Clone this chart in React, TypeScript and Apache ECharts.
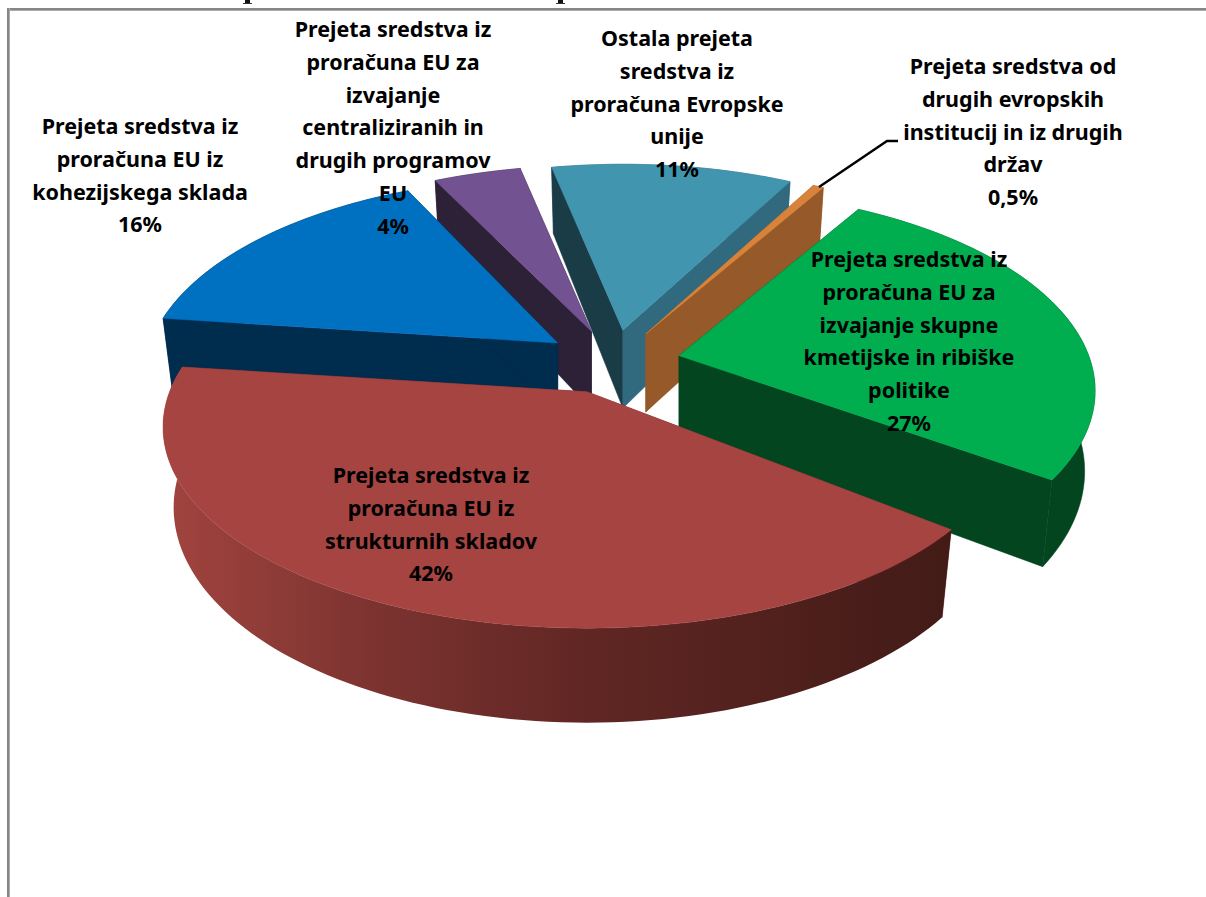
import React, { useEffect, useRef } from "react";
import * as echarts from "echarts";

const categories = [
  "Prejeta sredstva iz\nproračuna EU iz\nstrukturnih skladov",
  "Prejeta sredstva iz\nproračuna EU iz\nkohezijskega sklada",
  "Prejeta sredstva iz\nproračuna EU za\nizvajanje\ncentraliziranih in\ndrugih programov\nEU",
  "Ostala prejeta\nsredstva iz\nproračuna Evropske\nunije",
  "Prejeta sredstva od\ndrugih evropskih\ninstitucij in iz drugih\ndržav",
  "Prejeta sredstva iz\nproračuna EU za\nizvajanje skupne\nkmetijske in ribiške\npolitike",
];
const values = [42, 16, 4, 11, 0.5, 27];
const percentLabels = ["42%", "16%", "4%", "11%", "0,5%", "27%"];

// painter's order, back to front
const drawOrder = [3, 4, 2, 1, 5, 0];

const topColors = ["#A64442", "#0070C0", "#725291", "#4195AF", "#D8833A", "#00AE50"];
const startWall = ["#6A2A28", "#002C4E", "#2C2137", "#1A3C47", "#95592A", "#03451F"];
const endWall = ["#6A2A28", "#002C4E", "#2C2137", "#31697E", "#95592A", "#03451F"];
const labelCenters: [number, number][] = [
  [431, 458],
  [140, 109],
  [393, 12],
  [677, 21],
  [1013, 49],
  [909, 242],
];

const START = 37;
const START_TRIM = [2, 0, -1.3, -1, 0, 0];
const END_TRIM = [0, 0, 1, 0, 0, 2];
const CX = 612.5, CY = 362, A = 411, B = 195, K = 0.175, EXPLODE = 0.165, DEPTH_SCALE = 0.1;
const DEPTH = 78, BOTTOM_X = 0.975, BOTTOM_Y = 1.07;
const total = values.reduce((a, b) => a + b, 0);
const rad = (d: number) => (d * Math.PI) / 180;

function sliceShapes(i: number) {
  let a0 = START;
  for (let j = 0; j < i; j++) a0 += (values[j] / total) * 360;
  let a1 = a0 + (values[i] / total) * 360;
  const mid = rad((a0 + a1) / 2);
  a0 += START_TRIM[i];
  a1 -= END_TRIM[i];
  const ax = CX + Math.cos(mid) * A * EXPLODE;
  const ay = CY + Math.sin(mid) * B * EXPLODE;
  const scale = 1 + DEPTH_SCALE * Math.sin(mid) * EXPLODE;
  const delta = (deg: number) => {
    const w = 1 - K * Math.sin(rad(deg));
    return [(A * scale * Math.cos(rad(deg))) / w, (B * Math.sin(rad(deg))) / w];
  };
  const top = (deg: number) => {
    const [dx, dy] = delta(deg);
    return [ax + dx, ay + dy];
  };
  const bot = (deg: number) => {
    const [dx, dy] = delta(deg);
    return [ax + dx * BOTTOM_X, ay + DEPTH + dy * BOTTOM_Y];
  };
  const n = Math.max(2, Math.ceil((a1 - a0) / 1.5));
  const angles: number[] = [];
  for (let s = 0; s <= n; s++) angles.push(a0 + ((a1 - a0) * s) / n);
  return {
    arcInFront: Math.sin(mid) > 0,
    startFace: [[ax, ay], top(a0), bot(a0), [ax, ay + DEPTH]],
    endFace: [[ax, ay], top(a1), bot(a1), [ax, ay + DEPTH]],
    arcFace: [...angles.map(top), ...angles.slice().reverse().map(bot)],
    topFace: [[ax, ay], ...angles.map(top)],
  };
}

function wallFill(i: number) {
  if (i === 0) {
    return new echarts.graphic.LinearGradient(0, 0, 1, 0, [
      { offset: 0, color: "#A2443F" },
      { offset: 0.25, color: "#7E3431" },
      { offset: 0.55, color: "#5F2623" },
      { offset: 1, color: "#421B17" },
    ]);
  }
  return endWall[i];
}

export default function App() {
  const ref = useRef<HTMLDivElement>(null);
  useEffect(() => {
    const chart = echarts.init(ref.current!, undefined, { renderer: "svg" });
    const textStyle = { fontFamily: "Noto Sans", fontWeight: "bold", fontSize: 21.5, lineHeight: 32.8, fill: "#000", textAlign: "center" };
    chart.setOption({
      animation: false,
      backgroundColor: "#fff",
      graphic: [
        { type: "rect", z: 1, shape: { x: 8, y: 8, width: 1198, height: 2 }, style: { fill: "#868686" } },
        { type: "rect", z: 1, shape: { x: 8, y: 10, width: 1198, height: 1 }, style: { fill: "#ABABAB" } },
        { type: "rect", z: 1, shape: { x: 7, y: 8, width: 2, height: 889 }, style: { fill: "#868686" } },
        { type: "rect", z: 1, shape: { x: 9, y: 8, width: 1, height: 889 }, style: { fill: "#ABABAB" } },
        { type: "rect", z: 1, shape: { x: 245, y: 0, width: 5, height: 4 }, style: { fill: "#111" } },
        { type: "rect", z: 1, shape: { x: 243, y: 3, width: 9, height: 1 }, style: { fill: "#333" } },
        { type: "rect", z: 1, shape: { x: 558, y: 0, width: 5, height: 4 }, style: { fill: "#111" } },
        { type: "rect", z: 1, shape: { x: 556, y: 3, width: 9, height: 1 }, style: { fill: "#333" } },
        {
          type: "polyline", z: 50,
          shape: { points: [[819, 187], [887, 141], [898, 141]] },
          style: { stroke: "#000", lineWidth: 2.4, fill: "none" },
        },
        ...categories.map((c, i) => ({
          type: "text", z: 60,
          x: labelCenters[i][0], y: labelCenters[i][1],
          style: { ...textStyle, text: c + "\n" + percentLabels[i] },
        })),
      ],
      series: [
        {
          type: "custom",
          coordinateSystem: "none",
          silent: true,
          z: 10,
          data: drawOrder.map((i) => [i, values[i]]),
          renderItem: (_p: any, api: any) => {
            const i = api.value(0) as number;
            const s = sliceShapes(i);
            const poly = (points: number[][], fill: any) => ({
              type: "polygon",
              shape: { points },
              style: { fill, stroke: fill instanceof Object ? undefined : fill, lineWidth: 0.5 },
            });
            const arc = poly(s.arcFace, wallFill(i));
            const faces = [poly(s.startFace, startWall[i]), poly(s.endFace, endWall[i])];
            return {
              type: "group",
              children: [
                ...(s.arcInFront ? [...faces, arc] : [arc, ...faces]),
                poly(s.topFace, topColors[i]),
              ],
            };
          },
        },
      ],
    });
    return () => chart.dispose();
  }, []);
  return <div ref={ref} style={{ position: "absolute", left: 0, top: 0, width: 1206, height: 897 }} />;
}
